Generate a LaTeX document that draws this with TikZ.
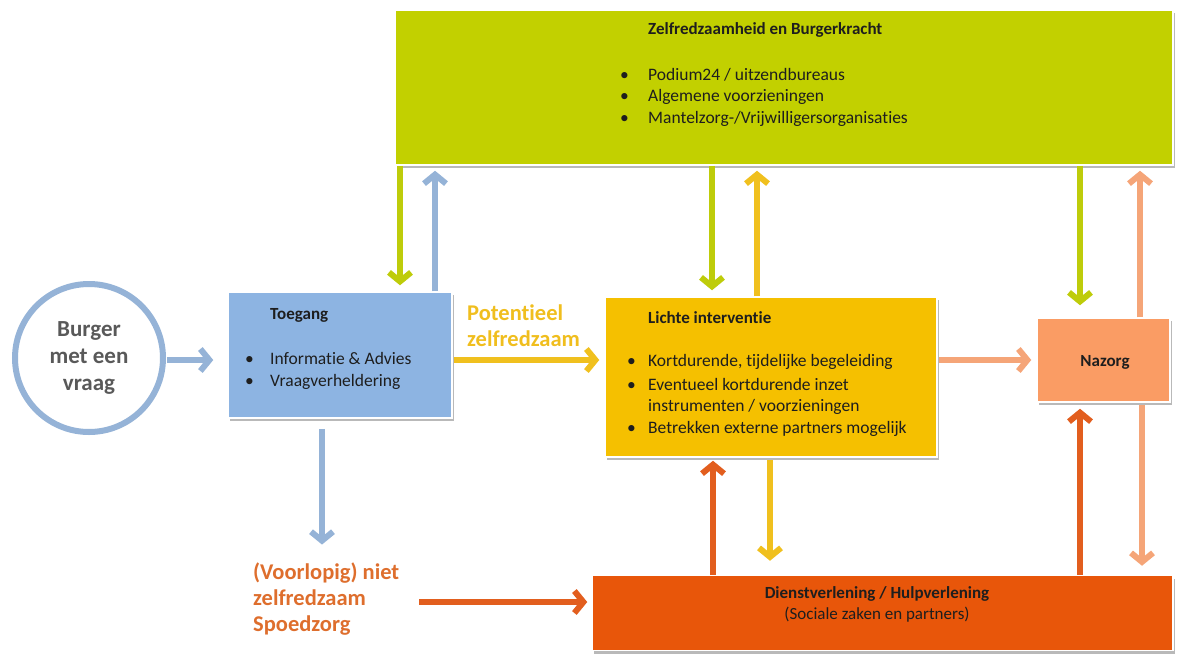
\documentclass[tikz,border=0pt]{standalone}
\usepackage{fontspec}
\setmainfont{Carlito}[Ligatures=NoCommon]
\usetikzlibrary{arrows.meta,shadows}
\definecolor{cGreen}{RGB}{194,208,0}
\definecolor{cGreenA}{RGB}{190,204,10}
\definecolor{cBlue}{RGB}{141,180,226}
\definecolor{cBlueA}{RGB}{149,179,215}
\definecolor{cYellow}{RGB}{245,192,0}
\definecolor{cYellowA}{RGB}{240,192,30}
\definecolor{cSalmon}{RGB}{250,156,100}
\definecolor{cSalmonA}{RGB}{245,165,120}
\definecolor{cRed}{RGB}{232,86,10}
\definecolor{cRedA}{RGB}{226,94,30}
\definecolor{cVoor}{RGB}{222,110,45}
\definecolor{cPot}{RGB}{240,190,30}
\definecolor{cGrayT}{RGB}{89,89,89}
\definecolor{cTxt}{RGB}{30,30,30}
\tikzset{
  box/.style={rectangle, draw=white, line width=1.5pt, inner sep=0pt,
    drop shadow={shadow xshift=2pt, shadow yshift=-3pt, fill=black!50, opacity=0.55}},
  arr/.style={line width=6pt, -{Straight Barb[length=9pt,width=22pt]}},
  ttl/.style={font=\fontsize{17}{20}\selectfont\bfseries, text=cTxt, anchor=west, inner sep=0pt},
  itm/.style={font=\fontsize{17.5}{21}\selectfont, text=cTxt, anchor=west, inner sep=0pt},
  big/.style={font=\fontsize{22.5}{26}\selectfont\bfseries, align=left, anchor=west, inner sep=0pt},
}
\newcommand{\bul}{\makebox[28pt][l]{\textbullet}}
\begin{document}
\begin{tikzpicture}[x=1pt,y=-1pt]
\useasboundingbox (0,0) rectangle (1178,659);
% boxes
\node[box, fill=cGreen, minimum width=778pt, minimum height=155pt] (zelf) at (784,87.5) {};
\node[box, fill=cBlue, minimum width=224pt, minimum height=126pt] (toeg) at (340,355) {};
\node[box, fill=cYellow, minimum width=332pt, minimum height=160pt] (licht) at (771,377) {};
\node[box, fill=cSalmon, minimum width=133pt, minimum height=84pt] (naz) at (1103.5,360) {};
\node[box, fill=cRed, minimum width=581pt, minimum height=75pt] (dienst) at (882.5,613) {};
\node[circle, draw=cBlueA, line width=6pt, fill=white, minimum size=148pt, inner sep=0pt,
  drop shadow={shadow xshift=1.5pt, shadow yshift=-2pt, fill=black!40, opacity=0.4},
  font=\fontsize{23}{27}\selectfont\bfseries, text=cGrayT, align=center] (burger) at (89,358)
  {Burger\\met een\\vraag};
% texts green
\node[ttl] (zelfT) at (648,30) {Zelfredzaamheid en Burgerkracht};
\node[itm] (z1) at (620,75) {\bul Podium24 / uitzendbureaus};
\node[itm] (z2) at (620,97) {\bul Algemene voorzieningen};
\node[itm] (z3) at (620,119) {\bul Mantelzorg-/Vrijwilligersorganisaties};
% texts toegang
\node[ttl] (toegT) at (270,315) {Toegang};
\node[itm] (t1) at (245,358) {\makebox[25pt][l]{\textbullet}Informatie \& Advies};
\node[itm] (t2) at (245,382) {\makebox[25pt][l]{\textbullet}Vraagverheldering};
% texts lichte
\node[ttl] (lichtT) at (648,318) {Lichte interventie};
\node[itm] (l1) at (627,362) {\makebox[21pt][l]{\textbullet}Kortdurende, tijdelijke begeleiding};
\node[itm] (l2) at (627,384) {\makebox[21pt][l]{\textbullet}Eventueel kortdurende inzet};
\node[itm] (l2b) at (648,407) {instrumenten / voorzieningen};
\node[itm] (l3) at (627,429) {\makebox[21pt][l]{\textbullet}Betrekken externe partners mogelijk};
% nazorg / dienst
\node[ttl, anchor=center] (nazT) at (1105,362) {Nazorg};
\node[ttl, anchor=center] (dienstT) at (877,594) {Dienstverlening / Hulpverlening};
\node[itm, anchor=center, font=\fontsize{17}{20}\selectfont] (dienstS) at (877,615) {(Sociale zaken en partners)};
% free labels
\node[big, text=cPot] (pot) at (467,326) {Potentieel\\zelfredzaam};
\node[big, text=cVoor] (voor) at (253,599) {(Voorlopig) niet\\zelfredzaam\\Spoedzorg};
% arrows
\draw[arr, cGreenA, shorten >=6pt] (zelf.south -| 400,0) -- (toeg.north -| 400,0);
\draw[arr, cBlueA, shorten >=5pt] (toeg.north -| 435,0) -- (zelf.south -| 435,0);
\draw[arr, cGreenA, shorten >=6pt] (zelf.south -| 712,0) -- (licht.north -| 712,0);
\draw[arr, cYellowA, shorten >=5pt] (licht.north -| 757,0) -- (zelf.south -| 757,0);
\draw[arr, cGreenA, shorten >=12pt] (zelf.south -| 1080,0) -- (naz.north -| 1080,0);
\draw[arr, cSalmonA, shorten >=5pt] (naz.north -| 1140,0) -- (zelf.south -| 1140,0);
\draw[arr, cBlueA, shorten >=14pt, shorten <=1pt] (burger.east |- 0,360) -- (toeg.west |- 0,360);
\draw[arr, cYellowA, shorten >=5pt, shorten <=1pt] (toeg.east |- 0,360) -- (licht.west |- 0,360);
\draw[arr, cSalmonA, shorten >=5pt, shorten <=1pt] (licht.east |- 0,360) -- (naz.west |- 0,360);
\draw[arr, cBlueA, shorten >=18pt, shorten <=10pt] (toeg.south -| 322,0) -- (voor.north -| 322,0);
\draw[arr, cRedA, shorten >=4pt, shorten <=20pt] (voor.east |- 0,602) -- (dienst.west |- 0,602);
\draw[arr, cRedA, shorten >=3pt] (dienst.north -| 713,0) -- (licht.south -| 713,0);
\draw[arr, cYellowA, shorten >=14pt, shorten <=2pt] (licht.south -| 770,0) -- (dienst.north -| 770,0);
\draw[arr, cRedA, shorten >=6pt] (dienst.north -| 1080,0) -- (naz.south -| 1080,0);
\draw[arr, cSalmonA, shorten >=9pt, shorten <=2pt] (naz.south -| 1142,0) -- (dienst.north -| 1142,0);
\end{tikzpicture}
\end{document}
